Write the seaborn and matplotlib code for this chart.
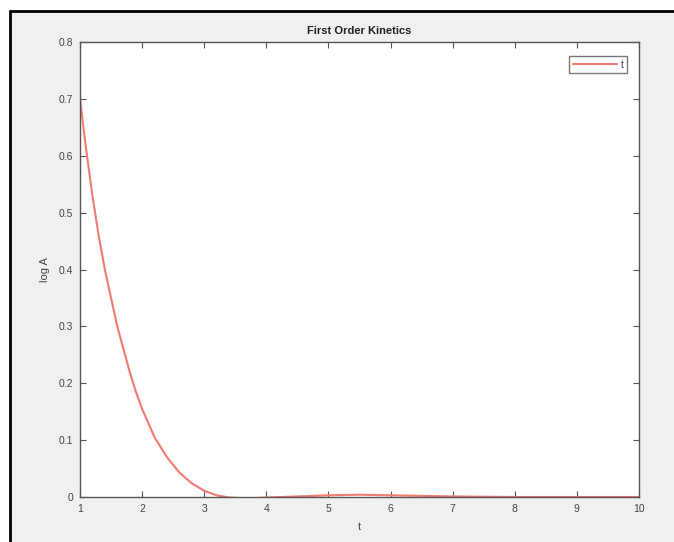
import matplotlib
matplotlib.use("Agg")
import matplotlib.pyplot as plt
from matplotlib.lines import Line2D
from matplotlib.patches import Rectangle
import seaborn as sns
import pandas as pd

t_values = [1.0, 1.1, 1.2, 1.3, 1.4, 1.5, 1.6, 1.7, 1.8, 1.9, 2.0, 2.2, 2.4, 2.6, 2.8,
            3.0, 3.2, 3.4, 3.6, 3.8, 4.0, 4.5, 5.0, 5.5, 6.0, 6.5, 7.0, 8.0, 9.0, 10.0]
logA_values = [0.70, 0.61, 0.53, 0.46, 0.40, 0.35, 0.30, 0.26, 0.22, 0.185, 0.155, 0.105,
               0.07, 0.043, 0.024, 0.011, 0.003, -0.001, -0.002, -0.002, -0.001, 0.001,
               0.003, 0.004, 0.003, 0.002, 0.001, 0.0, 0.0, 0.0]
series_name = "t"
title_text = "First Order Kinetics"
x_label = "t"
y_label = "log A"
x_ticks = [1, 2, 3, 4, 5, 6, 7, 8, 9, 10]
y_ticks = [0, 0.1, 0.2, 0.3, 0.4, 0.5, 0.6, 0.7, 0.8]

df = pd.DataFrame({"t": t_values, "logA": logA_values, "series": series_name})

sns.set_style("ticks")
plt.rcParams["font.family"] = ["Liberation Sans", "DejaVu Sans"]

fig = plt.figure(figsize=(6.74, 5.42), dpi=100)
fig.patch.set_facecolor("#f0f0f0")
# white strips at top and left, with black border lines
fig.add_artist(Rectangle((0, 1 - 11 / 542), 1, 11 / 542, transform=fig.transFigure,
                         facecolor="white", edgecolor="none", zorder=-10))
fig.add_artist(Rectangle((0, 0), 10 / 674, 1, transform=fig.transFigure,
                         facecolor="white", edgecolor="none", zorder=-10))
fig.add_artist(Line2D([10 / 674, 10 / 674], [0, 1 - 11 / 542], transform=fig.transFigure,
                      color="black", lw=2, zorder=-5))
fig.add_artist(Line2D([10 / 674, 1], [1 - 11 / 542, 1 - 11 / 542], transform=fig.transFigure,
                      color="black", lw=2, zorder=-5))

ax = fig.add_axes([80 / 674, (542 - 497) / 542, (639 - 80) / 674, (497 - 42) / 542])
ax.set_facecolor("white")

sns.lineplot(data=df, x="t", y="logA", hue="series", palette=["#f27a70"],
             linewidth=1.5, ax=ax)

ax.set_xlim(1, 10)
ax.set_ylim(0, 0.8)
ax.set_xticks(x_ticks)
ax.set_yticks(y_ticks)
ax.set_xticklabels([str(v) for v in x_ticks])
ax.set_yticklabels(["0" if v == 0 else f"{v:.1f}" for v in y_ticks])
ax.tick_params(direction="in", length=4, width=0.8, colors="#555555",
               labelcolor="#444444", labelsize=7.5, top=True, right=True, pad=5)
for s in ax.spines.values():
    s.set_color("#555555")
    s.set_linewidth(1.0)

ax.set_title(title_text, fontsize=8, fontweight="bold", color="#222222", pad=6)
ax.set_xlabel(x_label, fontsize=8, color="#444444", labelpad=6)
ax.set_ylabel(y_label, fontsize=8, color="#444444", labelpad=6)

leg = ax.legend(loc="upper right", bbox_to_anchor=(547 / 559, 441 / 455),
                fontsize=7.5, frameon=True, fancybox=False,
                handlelength=4.2, handletextpad=0.35, borderpad=0.35,
                borderaxespad=0.0)
leg.get_frame().set_edgecolor("#555555")
leg.get_frame().set_linewidth(1.0)
for txt in leg.get_texts():
    txt.set_color("#444444")

fig.savefig("out.png", dpi=100, facecolor=fig.get_facecolor())
